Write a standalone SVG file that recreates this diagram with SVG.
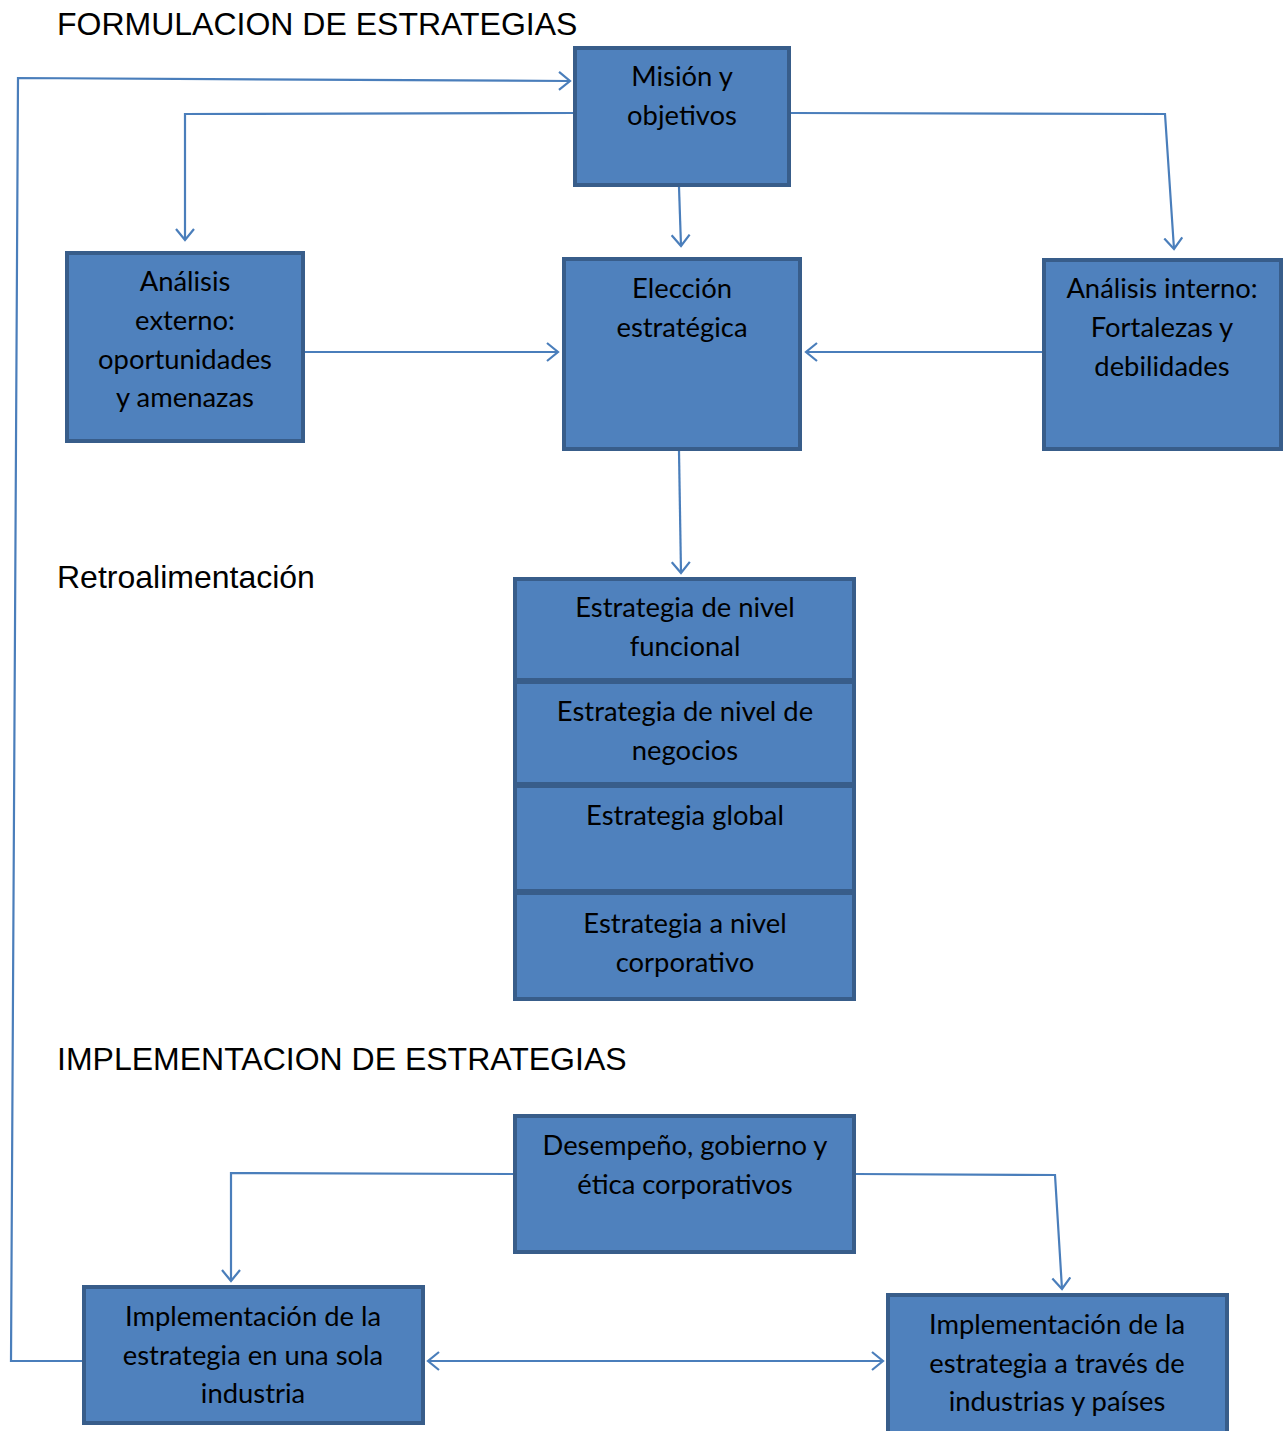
<svg xmlns="http://www.w3.org/2000/svg" width="1283" height="1431" viewBox="0 0 1283 1431">
<style>
.box{fill:#4F81BD;stroke:#385D8A;stroke-width:4}
.t{font-family:Lato,"Open Sans",sans-serif;font-size:27.4px;fill:#000;text-anchor:middle}
.h{font-family:"Liberation Sans",Arial,sans-serif;font-size:32px;fill:#000}
.c{fill:none;stroke:#4A7EBB;stroke-width:2.2}
</style>
<defs>
<marker id="a" markerWidth="14" markerHeight="20" refX="12" refY="10" orient="auto" markerUnits="userSpaceOnUse">
<path d="M1,1 L12,10 L1,19" fill="none" stroke="#4A7EBB" stroke-width="2.2"/>
</marker>
<marker id="s" markerWidth="14" markerHeight="20" refX="2" refY="10" orient="auto" markerUnits="userSpaceOnUse">
<path d="M13,1 L2,10 L13,19" fill="none" stroke="#4A7EBB" stroke-width="2.2"/>
</marker>
</defs>
<rect width="1283" height="1431" fill="#fff"/>
<text class="h" x="57" y="35">FORMULACION DE ESTRATEGIAS</text>
<text class="h" x="57" y="588">Retroalimentación</text>
<text class="h" x="57" y="1070">IMPLEMENTACION DE ESTRATEGIAS</text>

<g id="connectors">
<path class="c" d="M82,1361 L11,1361 L18,78 L570,81" marker-end="url(#a)"/>
<path class="c" d="M573,113 L185,114 L185,240" marker-end="url(#a)"/>
<path class="c" d="M679,187 L681,246" marker-end="url(#a)"/>
<path class="c" d="M791,113 L1165,114 L1174,249" marker-end="url(#a)"/>
<path class="c" d="M305,352 L558,352" marker-end="url(#a)"/>
<path class="c" d="M1042,352 L806,352" marker-end="url(#a)"/>
<path class="c" d="M679,451 L681,573" marker-end="url(#a)"/>
<path class="c" d="M513,1174 L231,1173 L231,1281" marker-end="url(#a)"/>
<path class="c" d="M856,1174 L1055,1175 L1062,1289" marker-end="url(#a)"/>
<path class="c" d="M428,1361 L883,1361" marker-start="url(#s)" marker-end="url(#a)"/>
</g>

<g id="mision"><rect class="box" x="575" y="48" width="214" height="137"/>
<text class="t" x="682" y="86">Misión y</text><text class="t" x="682" y="125">objetivos</text></g>

<g id="externo"><rect class="box" x="67" y="253" width="236" height="188"/>
<text class="t" x="185" y="291">Análisis</text><text class="t" x="185" y="330">externo:</text><text class="t" x="185" y="369">oportunidades</text><text class="t" x="185" y="407">y amenazas</text></g>

<g id="eleccion"><rect class="box" x="564" y="259" width="236" height="190"/>
<text class="t" x="682" y="298">Elección</text><text class="t" x="682" y="337">estratégica</text></g>

<g id="interno"><rect class="box" x="1044" y="260" width="237" height="189"/>
<text class="t" x="1162" y="298">Análisis interno:</text><text class="t" x="1162" y="337">Fortalezas y</text><text class="t" x="1162" y="376">debilidades</text></g>

<g id="funcional"><rect class="box" x="515" y="579" width="339" height="101"/>
<text class="t" x="685" y="617">Estrategia de nivel</text><text class="t" x="685" y="656">funcional</text></g>

<g id="negocios"><rect class="box" x="515" y="682" width="339" height="102"/>
<text class="t" x="685" y="721">Estrategia de nivel de</text><text class="t" x="685" y="760">negocios</text></g>

<g id="global"><rect class="box" x="515" y="786" width="339" height="105"/>
<text class="t" x="685" y="825">Estrategia global</text></g>

<g id="corporativo"><rect class="box" x="515" y="893" width="339" height="106"/>
<text class="t" x="685" y="933">Estrategia a nivel</text><text class="t" x="685" y="972">corporativo</text></g>

<g id="desempeno"><rect class="box" x="515" y="1116" width="339" height="136"/>
<text class="t" x="685" y="1155">Desempeño, gobierno y</text><text class="t" x="685" y="1194">ética corporativos</text></g>

<g id="impl-sola"><rect class="box" x="84" y="1287" width="339" height="136"/>
<text class="t" x="253" y="1326">Implementación de la</text><text class="t" x="253" y="1365">estrategia en una sola</text><text class="t" x="253" y="1403">industria</text></g>

<g id="impl-paises"><rect class="box" x="888" y="1295" width="339" height="140"/>
<text class="t" x="1057" y="1334">Implementación de la</text><text class="t" x="1057" y="1373">estrategia a través de</text><text class="t" x="1057" y="1411">industrias y países</text></g>
</svg>
